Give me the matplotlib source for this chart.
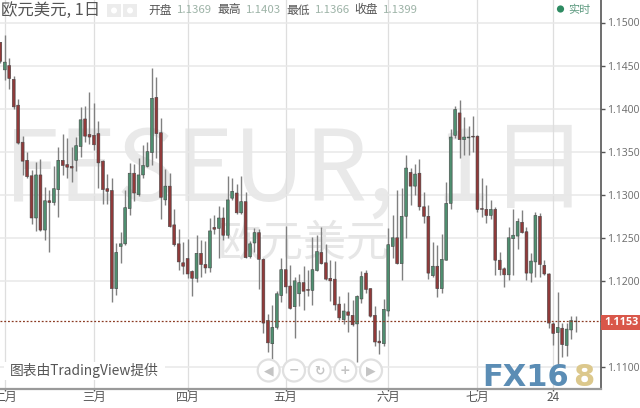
import matplotlib
matplotlib.use("Agg")
import matplotlib.pyplot as plt
from matplotlib.patches import Circle, Rectangle

plt.rcParams['font.family'] = ['Noto Sans CJK SC', 'DejaVu Sans']

# daily candles
opens = [1.1477, 1.1445, 1.1450, 1.1434, 1.1404, 1.1361, 1.1340, 1.1322, 1.1273, 1.1323,
         1.1259, 1.1293, 1.1291, 1.1306, 1.1340, 1.1335, 1.1333, 1.1340, 1.1356, 1.1388,
         1.1370, 1.1369, 1.1371, 1.1339, 1.1307, 1.1305, 1.1191, 1.1240, 1.1243, 1.1284,
         1.1325, 1.1300, 1.1323, 1.1333, 1.1349, 1.1413, 1.1372, 1.1294, 1.1310, 1.1265,
         1.1243, 1.1221, 1.1226, 1.1211, 1.1203, 1.1232, 1.1219, 1.1215, 1.1262, 1.1261,
         1.1273, 1.1253, 1.1296, 1.1302, 1.1279, 1.1292, 1.1228, 1.1244, 1.1256, 1.1225,
         1.1154, 1.1127, 1.1146, 1.1183, 1.1213, 1.1194, 1.1170, 1.1185, 1.1198, 1.1190,
         1.1189, 1.1212, 1.1233, 1.1221, 1.1203, 1.1202, 1.1173, 1.1155, 1.1164, 1.1160,
         1.1150, 1.1179, 1.1209, 1.1191, 1.1160, 1.1130, 1.1127, 1.1165, 1.1240, 1.1250,
         1.1220, 1.1275, 1.1326, 1.1310, 1.1325, 1.1286, 1.1275, 1.1206, 1.1217, 1.1191,
         1.1224, 1.1290, 1.1369, 1.1395, 1.1364, 1.1366, 1.1368, 1.1368, 1.1284, 1.1283,
         1.1276, 1.1283, 1.1224, 1.1214, 1.1207, 1.1249, 1.1252, 1.1268, 1.1257, 1.1209,
         1.1222, 1.1275, 1.1218, 1.1208, 1.1150, 1.1140, 1.1145, 1.1125, 1.1143, 1.1153]
highs = [1.1477, 1.1486, 1.1459, 1.1438, 1.1411, 1.1368, 1.1350, 1.1329, 1.1338, 1.1341,
         1.1309, 1.1305, 1.1333, 1.1355, 1.1370, 1.1366, 1.1355, 1.1367, 1.1402, 1.1403,
         1.1419, 1.1407, 1.1386, 1.1340, 1.1324, 1.1320, 1.1244, 1.1257, 1.1305, 1.1337,
         1.1336, 1.1343, 1.1358, 1.1361, 1.1447, 1.1437, 1.1389, 1.1330, 1.1325, 1.1284,
         1.1260, 1.1245, 1.1249, 1.1213, 1.1253, 1.1247, 1.1246, 1.1273, 1.1277, 1.1287,
         1.1286, 1.1322, 1.1320, 1.1312, 1.1322, 1.1303, 1.1246, 1.1261, 1.1260, 1.1226,
         1.1162, 1.1172, 1.1188, 1.1227, 1.1264, 1.1218, 1.1204, 1.1208, 1.1217, 1.1213,
         1.1251, 1.1253, 1.1262, 1.1243, 1.1224, 1.1223, 1.1183, 1.1174, 1.1187, 1.1178,
         1.1184, 1.1211, 1.1213, 1.1192, 1.1171, 1.1143, 1.1179, 1.1261, 1.1276, 1.1305,
         1.1308, 1.1346, 1.1331, 1.1336, 1.1342, 1.1303, 1.1288, 1.1245, 1.1242, 1.1254,
         1.1315, 1.1376, 1.1403, 1.1410, 1.1390, 1.1380, 1.1392, 1.1369, 1.1319, 1.1311,
         1.1294, 1.1286, 1.1233, 1.1216, 1.1263, 1.1283, 1.1273, 1.1282, 1.1262, 1.1232,
         1.1280, 1.1279, 1.1224, 1.1209, 1.1152, 1.1187, 1.1151, 1.1151, 1.1159, 1.1159]
lows = [1.1453, 1.1433, 1.1423, 1.1400, 1.1359, 1.1323, 1.1320, 1.1266, 1.1258, 1.1258,
        1.1248, 1.1233, 1.1288, 1.1274, 1.1323, 1.1320, 1.1315, 1.1327, 1.1344, 1.1361,
        1.1359, 1.1352, 1.1308, 1.1289, 1.1289, 1.1176, 1.1184, 1.1221, 1.1242, 1.1276,
        1.1293, 1.1299, 1.1319, 1.1332, 1.1335, 1.1343, 1.1272, 1.1288, 1.1262, 1.1241,
        1.1213, 1.1208, 1.1203, 1.1183, 1.1199, 1.1205, 1.1209, 1.1210, 1.1254, 1.1227,
        1.1248, 1.1250, 1.1294, 1.1278, 1.1278, 1.1226, 1.1227, 1.1234, 1.1191, 1.1140,
        1.1117, 1.1109, 1.1144, 1.1175, 1.1186, 1.1167, 1.1134, 1.1171, 1.1166, 1.1182,
        1.1172, 1.1211, 1.1219, 1.1201, 1.1177, 1.1166, 1.1155, 1.1150, 1.1141, 1.1148,
        1.1106, 1.1174, 1.1186, 1.1158, 1.1124, 1.1115, 1.1124, 1.1159, 1.1226, 1.1219,
        1.1201, 1.1250, 1.1288, 1.1300, 1.1282, 1.1267, 1.1202, 1.1204, 1.1181, 1.1186,
        1.1224, 1.1283, 1.1366, 1.1343, 1.1346, 1.1346, 1.1350, 1.1280, 1.1274, 1.1267,
        1.1272, 1.1207, 1.1207, 1.1193, 1.1201, 1.1207, 1.1237, 1.1255, 1.1201, 1.1199,
        1.1204, 1.1204, 1.1207, 1.1145, 1.1126, 1.1102, 1.1112, 1.1113, 1.1132, 1.1141]
closes = [1.1455, 1.1454, 1.1435, 1.1402, 1.1360, 1.1339, 1.1321, 1.1273, 1.1323, 1.1259,
          1.1293, 1.1291, 1.1307, 1.1340, 1.1334, 1.1332, 1.1331, 1.1357, 1.1387, 1.1368,
          1.1367, 1.1358, 1.1337, 1.1306, 1.1304, 1.1191, 1.1233, 1.1243, 1.1285, 1.1325,
          1.1302, 1.1323, 1.1334, 1.1350, 1.1412, 1.1371, 1.1297, 1.1310, 1.1263, 1.1242,
          1.1222, 1.1217, 1.1208, 1.1203, 1.1232, 1.1219, 1.1215, 1.1258, 1.1260, 1.1273,
          1.1253, 1.1294, 1.1304, 1.1279, 1.1292, 1.1227, 1.1243, 1.1256, 1.1225, 1.1151,
          1.1128, 1.1146, 1.1185, 1.1213, 1.1193, 1.1168, 1.1200, 1.1198, 1.1188, 1.1189,
          1.1213, 1.1234, 1.1220, 1.1202, 1.1200, 1.1172, 1.1157, 1.1165, 1.1160, 1.1149,
          1.1182, 1.1205, 1.1190, 1.1159, 1.1129, 1.1128, 1.1167, 1.1242, 1.1250, 1.1220,
          1.1275, 1.1331, 1.1310, 1.1324, 1.1286, 1.1275, 1.1209, 1.1217, 1.1191, 1.1225,
          1.1290, 1.1367, 1.1399, 1.1364, 1.1367, 1.1367, 1.1367, 1.1283, 1.1283, 1.1276,
          1.1283, 1.1224, 1.1213, 1.1207, 1.1250, 1.1253, 1.1269, 1.1256, 1.1209, 1.1223,
          1.1276, 1.1219, 1.1208, 1.1151, 1.1139, 1.1146, 1.1126, 1.1144, 1.1154, 1.1153]

month_pos = [1, 21, 42, 64, 87, 107, 124]
month_labels = ['二月', '三月', '四月', '五月', '六月', '七月', '24']
price_ticks = [1.1100, 1.1200, 1.1250, 1.1300, 1.1350, 1.1400, 1.1450, 1.1500]
last_price = 1.1153

header_names = ['开盘', '最高', '最低', '收盘']
header_values = ['1.1369', '1.1403', '1.1366', '1.1399']
header_x = [148, 217, 286, 354]

green = '#4f8f70'
red = '#913a3a'

W, H = 640, 408
fig = plt.figure(figsize=(W / 100, H / 100), dpi=100)
ax = fig.add_axes([0, 1 - 388.5 / H, 600.5 / W, 388.5 / H])
ax.set_xlim(-0.07, 134.6)
ax.set_ylim(1.15 - 366 / 8612, 1.15 + 22.5 / 8612)
ax.set_zorder(1)

# second axes in plain pixels, for the header, buttons and logo
ov = fig.add_axes([0, 0, 1, 1])
ov.set_xlim(0, W)
ov.set_ylim(H, 0)
ov.axis('off')
ov.set_zorder(2)

ax.set_yticks(price_ticks)
ax.set_yticklabels(['%.4f' % p for p in price_ticks], fontsize=7.5, color='#6a6a6a',
                   family=['Open Sans', 'DejaVu Sans'])
ax.yaxis.tick_right()
ax.set_xticks(month_pos)
ax.set_xticklabels(month_labels, fontsize=8.6, color='#555555')
ax.tick_params(axis='y', length=3, width=1, color='#555555', pad=2)
ax.tick_params(axis='x', length=1.5, width=1, color='#555555', pad=0.5)
ax.grid(True, axis='y', color='#e8e8e8', lw=1.1)
ax.grid(True, axis='x', color='#dedede', lw=0.9)
ax.set_axisbelow(True)
for s in ['top', 'left']:
    ax.spines[s].set_visible(False)
ax.spines['bottom'].set_color('#9a9a9a')
ax.spines['bottom'].set_linewidth(1.6)
ax.spines['right'].set_color('#555555')
ax.spines['right'].set_linewidth(1.2)

# watermark, under the candles
wm = ax.get_yaxis_transform()
ax.text(0.006, 1.1325, 'FESEUR,', fontsize=71, color='#e9e9e9', va='center', ha='left',
        fontweight='light', transform=wm, zorder=0.5)
ax.text(0.725, 1.1325, '1日', fontsize=71, color='#e9e9e9', va='center', ha='left',
        fontweight='light', transform=wm, zorder=0.5)
ax.text(0.362, 1.1243, '欧元美元', fontsize=31, color='#e6e6e6', va='center', ha='left',
        fontweight='light', transform=wm, zorder=0.5)

# candles
for i in range(len(closes)):
    up = closes[i] > opens[i]
    col = green if up else red
    ax.vlines(i, lows[i], highs[i], color='#808080', lw=1.0, zorder=2)
    bottom = min(opens[i], closes[i])
    height = max(abs(closes[i] - opens[i]), 0.00003)
    ax.bar(i, height, bottom=bottom, width=0.64, color=col, edgecolor='#454545', lw=0.4, zorder=3,
           snap=False)

# last price line and label
ax.axhline(last_price, color='#8a3a22', lw=0.9, ls=(0, (1.5, 1.5)), zorder=4)
ov.add_patch(Rectangle((601, 315), 39, 15, color='#d9574a', lw=0))
ov.text(621, 322.5, '1.1153', fontsize=7.8, color='white', fontweight='bold', ha='center', va='center',
        family=['Open Sans', 'DejaVu Sans'])

# header
ov.text(1, 10, '欧元美元, 1日', fontsize=11.8, color='#555555', va='center')
for bx in [107, 123]:
    ov.add_patch(Rectangle((bx, 4), 14, 13, color='#ececec', lw=0))
    ov.add_patch(Circle((bx + 7, 10.5), 3, color='white', lw=0))
for name, val, hx in zip(header_names, header_values, header_x):
    ov.text(hx, 10, name, fontsize=8.5, color='#555555', va='center')
    ov.text(hx + 29, 10, val, fontsize=8.2, color='#9db3a7', va='center')
ov.add_patch(Circle((560.5, 9), 3.6, color='#2e8b62', lw=0))
ov.text(568, 9.5, '实时', fontsize=8, color='#5d9a80', va='center')

# credit and zoom buttons
ov.add_patch(Rectangle((4, 362), 161, 18, color='white', lw=0))
ov.text(10, 370.5, '图表由TradingView提供', fontsize=9.9, color='#555555', va='center')
for bx, sym in zip([268.7, 294, 319.7, 345.3, 371], ['◀', '−', '↻', '+', '▶']):
    ov.add_patch(Circle((bx, 370.5), 11, facecolor='white', edgecolor='#e0e0e0', lw=1.6))
    ov.text(bx, 370.5, sym, fontsize=9, color='#c4c4c4', ha='center', va='center',
            family=['DejaVu Sans'], fontweight='bold')

# logo
ov.text(482, 377, 'FX16', fontsize=22, color='#5b8db5', fontweight='bold', va='center',
        family=['DejaVu Sans'])
ov.text(573, 377, '8', fontsize=22, color='#dcc88c', fontweight='bold', va='center',
        family=['DejaVu Sans'])

fig.savefig('out.png', dpi=100)
